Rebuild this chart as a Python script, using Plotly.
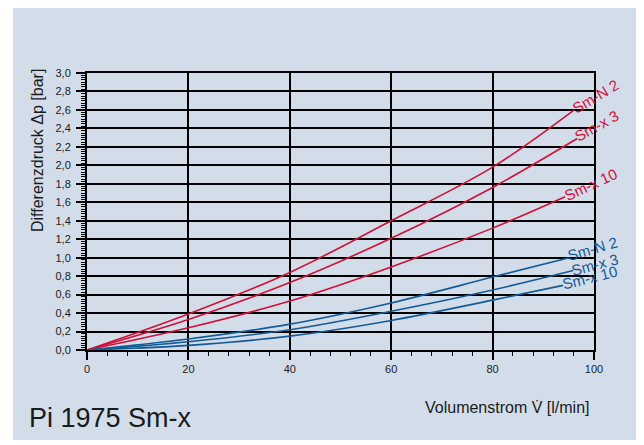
import plotly.graph_objects as go

# ---- data ----
flow = [0, 20, 40, 60, 80]
red_N2 = [0, 0.39, 0.84, 1.40, 1.98, 2.60]
red_N2_x = flow + [96.1]
red_x3 = [0, 0.33, 0.73, 1.21, 1.76, 2.29]
red_x3_x = flow + [96.7]
red_x10 = [0, 0.24, 0.53, 0.90, 1.32, 1.66]
red_x10_x = flow + [94.3]
blue_N2 = [0, 0.12, 0.28, 0.51, 0.79, 1.00]
blue_N2_x = flow + [95.1]
blue_x3 = [0, 0.09, 0.22, 0.42, 0.65, 0.86]
blue_x3_x = flow + [95.9]
blue_x10 = [0, 0.05, 0.15, 0.32, 0.54, 0.70]
blue_x10_x = flow + [93.9]

x_ticks = [0, 20, 40, 60, 80, 100]
y_ticks = [0.0, 0.2, 0.4, 0.6, 0.8, 1.0, 1.2, 1.4, 1.6, 1.8, 2.0, 2.2, 2.4, 2.6, 2.8, 3.0]
y_ticktext = ["0,0", "0,2", "0,4", "0,6", "0,8", "1,0", "1,2", "1,4", "1,6", "1,8",
              "2,0", "2,2", "2,4", "2,6", "2,8", "3,0"]

RED = "#d0103a"
BLUE = "#135a97"
PANEL = "#d3dde9"
FONT = "Liberation Sans, Arial, sans-serif"

# page offset (body margin) compensation
OFF = 8
L, T, PW, PH = 87 - OFF, 73 - OFF, 507, 277


def px(xpix):
    return (xpix - OFF - L) / PW


def py(ypix):
    return (T + PH - (ypix - OFF)) / PH


series = [
    (red_N2_x, red_N2, RED, "Sm-N 2", 100.2, 2.75, -31),
    (red_x3_x, red_x3, RED, "Sm-x 3", 100.6, 2.43, -29),
    (red_x10_x, red_x10, RED, "Sm-x 10", 99.4, 1.79, -25),
    (blue_N2_x, blue_N2, BLUE, "Sm-N 2", 99.8, 1.10, -16),
    (blue_x3_x, blue_x3, BLUE, "Sm-x 3", 100.2, 0.93, -15),
    (blue_x10_x, blue_x10, BLUE, "Sm-x 10", 99.2, 0.78, -14),
]

fig = go.Figure()
annotations = []
for xs, ys, col, name, lx, ly, ang in series:
    fig.add_trace(go.Scatter(x=xs, y=ys, mode="lines",
                             line=dict(color=col, width=1.6, shape="spline"),
                             showlegend=False, hoverinfo="skip"))
    annotations.append(dict(x=lx / 100, y=ly / 3, xref="paper", yref="paper",
                            text=name, showarrow=False, textangle=ang,
                            xanchor="center", yanchor="middle",
                            font=dict(family=FONT, size=15, color=col)))

annotations.append(dict(x=px(37), y=py(151), xref="paper", yref="paper",
                        text="Differenzdruck Δp [bar]", showarrow=False, textangle=-90,
                        xanchor="center", yanchor="middle",
                        font=dict(family=FONT, size=16, color="#1a1a1a")))
annotations.append(dict(x=px(592), y=py(407), xref="paper", yref="paper",
                        text="Volumenstrom V̇ [l/min]", showarrow=False,
                        xanchor="right", yanchor="middle",
                        font=dict(family=FONT, size=16, color="#1a1a1a")))
annotations.append(dict(x=px(27), y=py(418), xref="paper", yref="paper",
                        text="Pi 1975 Sm-x", showarrow=False,
                        xanchor="left", yanchor="middle",
                        font=dict(family=FONT, size=27, color="#1a1a1a")))

fig.update_layout(
    width=644, height=445,
    margin=dict(l=L, r=644 - L - PW, t=T, b=445 - T - PH),
    paper_bgcolor="white", plot_bgcolor="white",
    font=dict(family=FONT, size=11, color="#1a1a1a"),
    annotations=annotations,
    shapes=[dict(type="rect", xref="paper", yref="paper",
                 x0=px(13), x1=px(637),
                 y0=py(440), y1=py(0),
                 fillcolor=PANEL, line=dict(width=0), layer="below")],
)
fig.update_xaxes(range=[0, 100], tickvals=x_ticks, ticks="outside", ticklen=8,
                 tickwidth=1.5, tickcolor="black", showgrid=True, gridcolor="black",
                 gridwidth=1.5, showline=True, linecolor="black", linewidth=2,
                 mirror=True, zeroline=False,
                 tickfont=dict(size=11, color="#1a1a1a"),
                 minor=dict(dtick=4, ticks="outside", ticklen=4, tickwidth=1.2,
                            tickcolor="black", showgrid=False))
fig.update_yaxes(range=[0, 3], tickvals=y_ticks, ticktext=y_ticktext, ticks="outside",
                 ticklen=9, tickwidth=1.5, tickcolor="black", showgrid=True,
                 gridcolor="black", gridwidth=1.5, showline=True, linecolor="black",
                 linewidth=2, mirror=True, zeroline=False, ticklabelstandoff=3,
                 tickfont=dict(size=11, color="#1a1a1a"),
                 minor=dict(dtick=0.025, ticks="outside", ticklen=4, tickwidth=1,
                            tickcolor="black", showgrid=False))

fig.write_html("out.html")
